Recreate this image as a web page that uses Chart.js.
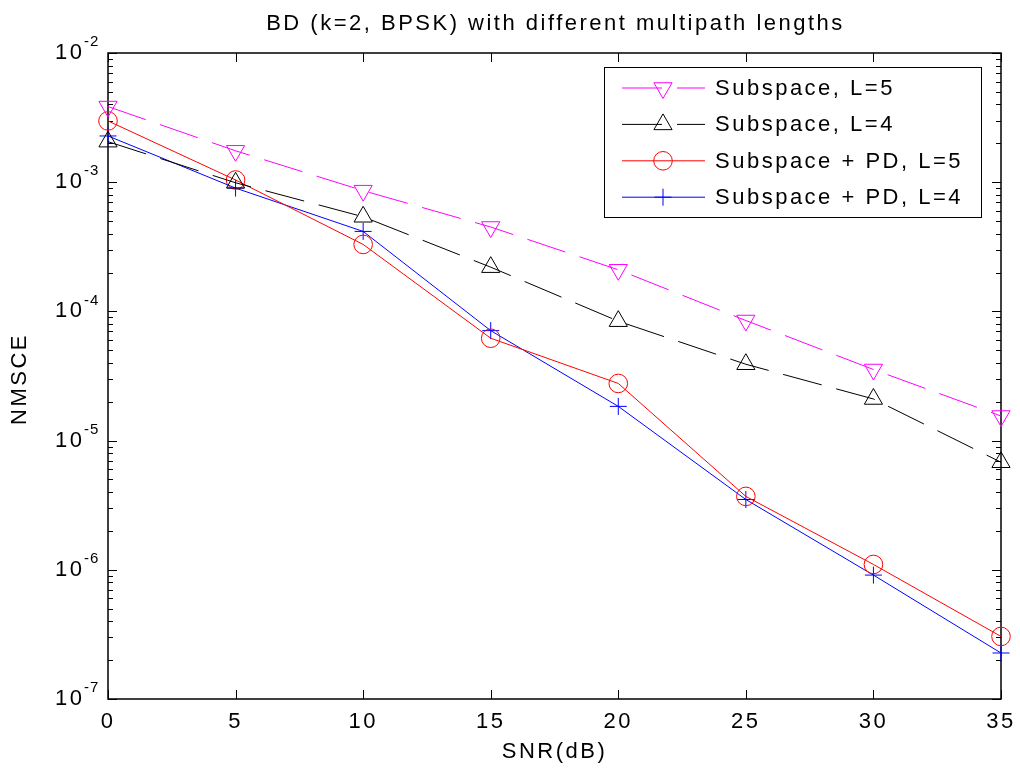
<!DOCTYPE html>
<html>
<head>
<meta charset="utf-8">
<title>BD (k=2, BPSK) with different multipath lengths</title>
<script src="https://cdn.jsdelivr.net/npm/chart.js@4.4.1/dist/chart.umd.min.js"></script>
<style>
	body { margin: 0; background: #fff; }
	#wrap { width: 1020px; height: 770px; }
</style>
</head>
<body>
<div id="wrap"><canvas id="nmsce" width="1020" height="770"></canvas></div>
<script>
// values
const snr = [0, 5, 10, 15, 20, 25, 30, 35];
const subspaceL5 = [3.85e-3, 1.75e-3, 8.6e-4, 4.5e-4, 2.1e-4, 8.5e-5, 3.55e-5, 1.55e-5];
const subspaceL4 = [2.06e-3, 9.9e-4, 5.4e-4, 2.2e-4, 8.4e-5, 3.9e-5, 2.1e-5, 6.8e-6];
const pdL5 = [2.98e-3, 1.04e-3, 3.3e-4, 6.2e-5, 2.77e-5, 3.7e-6, 1.1e-6, 3.05e-7];
const pdL4 = [2.28e-3, 9.0e-4, 4.16e-4, 7.1e-5, 1.84e-5, 3.5e-6, 9.1e-7, 2.27e-7];
const yTickExp = [-7, -6, -5, -4, -3, -2];
const legendNames = ['Subspace, L=5', 'Subspace, L=4', 'Subspace + PD, L=5', 'Subspace + PD, L=4'];

const FONT = '"Liberation Sans", Arial, sans-serif';
const SPACING = '2.5px';

function makeSet(label, values, color, dash, style, radius, rotation) {
	return {
		label: label,
		data: snr.map(function(x, i) { return { x: x, y: values[i] }; }),
		borderColor: color,
		backgroundColor: 'rgba(0,0,0,0)',
		borderWidth: 1,
		borderDash: dash,
		pointStyle: style,
		pointRadius: radius,
		pointRotation: rotation,
		pointBorderColor: color,
		pointBackgroundColor: 'rgba(0,0,0,0)',
		pointBorderWidth: 1,
		fill: false,
		tension: 0,
		clip: false
	};
}

// matlab style box, inward ticks, labels and legend
const matlabAxes = {
	id: 'matlabAxes',

	beforeDraw(chart) {
		chart.ctx.letterSpacing = SPACING;
	},

	beforeDatasetsDraw(chart) {
		const ctx = chart.ctx;
		const area = chart.chartArea;
		const xs = chart.scales.x;
		const ys = chart.scales.y;

		ctx.save();
		ctx.strokeStyle = '#000';
		ctx.lineWidth = 1;

		xs.ticks.forEach(function(t) {
			const px = Math.round(xs.getPixelForValue(t.value)) + 0.5;
			ctx.beginPath();
			ctx.moveTo(px, area.bottom);
			ctx.lineTo(px, area.bottom - 9);
			ctx.moveTo(px, area.top);
			ctx.lineTo(px, area.top + 9);
			ctx.stroke();
		});

		yTickExp.forEach(function(e) {
			const py = Math.round(ys.getPixelForValue(Math.pow(10, e))) + 0.5;
			ctx.beginPath();
			ctx.moveTo(area.left, py);
			ctx.lineTo(area.left + 9, py);
			ctx.moveTo(area.right, py);
			ctx.lineTo(area.right - 9, py);
			ctx.stroke();
			if (e === yTickExp[yTickExp.length - 1]) return;
			for (let m = 2; m <= 9; m++) {
				const my = Math.round(ys.getPixelForValue(m * Math.pow(10, e))) + 0.5;
				ctx.beginPath();
				ctx.moveTo(area.left, my);
				ctx.lineTo(area.left + 5, my);
				ctx.moveTo(area.right, my);
				ctx.lineTo(area.right - 5, my);
				ctx.stroke();
			}
		});

		ctx.lineWidth = 1.5;
		ctx.strokeRect(area.left, area.top, area.right - area.left, area.bottom - area.top);
		ctx.restore();
	},

	afterDraw(chart) {
		const ctx = chart.ctx;
		const area = chart.chartArea;
		const ys = chart.scales.y;
		const midX = (area.left + area.right) / 2;

		ctx.save();
		ctx.fillStyle = '#000';
		ctx.letterSpacing = SPACING;
		ctx.textBaseline = 'middle';

		// title
		ctx.font = '22px ' + FONT;
		ctx.textAlign = 'center';
		ctx.fillText('BD (k=2, BPSK) with different multipath lengths', midX + 1, 24);

		// x label
		ctx.fillText('SNR(dB)', midX, 752);

		// y tick labels 10^e
		yTickExp.forEach(function(e) {
			const py = ys.getPixelForValue(Math.pow(10, e));
			ctx.font = '22px ' + FONT;
			ctx.letterSpacing = SPACING;
			ctx.textAlign = 'right';
			ctx.fillText('10', 84.5, py);
			ctx.font = '15px ' + FONT;
			ctx.letterSpacing = '1px';
			ctx.textAlign = 'left';
			ctx.fillText(String(e), 84, py - 11);
		});

		// y label
		ctx.font = '22px ' + FONT;
		ctx.letterSpacing = SPACING;
		ctx.textAlign = 'center';
		ctx.translate(20, 379);
		ctx.rotate(-Math.PI / 2);
		ctx.fillText('NMSCE', 0, 0);
		ctx.restore();

		// legend
		ctx.save();
		ctx.fillStyle = '#fff';
		ctx.fillRect(604.5, 67.5, 377, 150);
		ctx.strokeStyle = '#000';
		ctx.lineWidth = 1;
		ctx.strokeRect(604.5, 67.5, 377, 150);

		chart.data.datasets.forEach(function(ds, i) {
			const y = 88 + i * 36.4;
			ctx.strokeStyle = ds.borderColor;
			ctx.lineWidth = ds.borderWidth;
			ctx.setLineDash(ds.borderDash);
			ctx.beginPath();
			ctx.moveTo(622, y);
			ctx.lineTo(705, y);
			ctx.stroke();
			ctx.setLineDash([]);
			ctx.fillStyle = 'rgba(0,0,0,0)';
			Chart.helpers.drawPoint(ctx, {
				pointStyle: ds.pointStyle,
				rotation: ds.pointRotation,
				radius: ds.pointRadius,
				borderWidth: 1
			}, 663, y);

			ctx.fillStyle = '#000';
			ctx.font = '22px ' + FONT;
			ctx.letterSpacing = SPACING;
			ctx.textAlign = 'left';
			ctx.textBaseline = 'middle';
			ctx.fillText(legendNames[i], 715, y + 1);
		});
		ctx.restore();
	}
};

const chart = new Chart(document.getElementById('nmsce').getContext('2d'), {
	type: 'line',
	data: {
		datasets: [
			makeSet(legendNames[0], subspaceL5, '#ff00ff', [40, 15], 'triangle', 10.5, 180),
			makeSet(legendNames[1], subspaceL4, '#000000', [40, 15], 'triangle', 10.5, 0),
			makeSet(legendNames[2], pdL5, '#ff0000', [], 'circle', 9.3, 0),
			makeSet(legendNames[3], pdL4, '#0000ff', [], 'cross', 8.5, 0)
		]
	},
	options: {
		responsive: false,
		devicePixelRatio: 1,
		animation: false,
		events: [],
		layout: { padding: { left: 0, right: 19, top: 53, bottom: 0 } },
		plugins: {
			legend: { display: false },
			title: { display: false },
			tooltip: { enabled: false }
		},
		scales: {
			x: {
				type: 'linear',
				min: 0,
				max: 35,
				grid: { display: false, drawTicks: false },
				border: { display: false },
				ticks: {
					stepSize: 5,
					padding: 10,
					color: '#000',
					font: { family: FONT, size: 22 }
				},
				afterFit: function(scale) {
					scale.height = 71;
					scale.paddingLeft = 0;
					scale.paddingRight = 0;
				}
			},
			y: {
				type: 'logarithmic',
				min: 1e-7,
				max: 1e-2,
				grid: { display: false, drawTicks: false },
				border: { display: false },
				ticks: { display: false },
				afterFit: function(scale) {
					scale.width = 108;
					scale.paddingTop = 0;
					scale.paddingBottom = 0;
				}
			}
		}
	},
	plugins: [matlabAxes]
});
</script>
</body>
</html>
